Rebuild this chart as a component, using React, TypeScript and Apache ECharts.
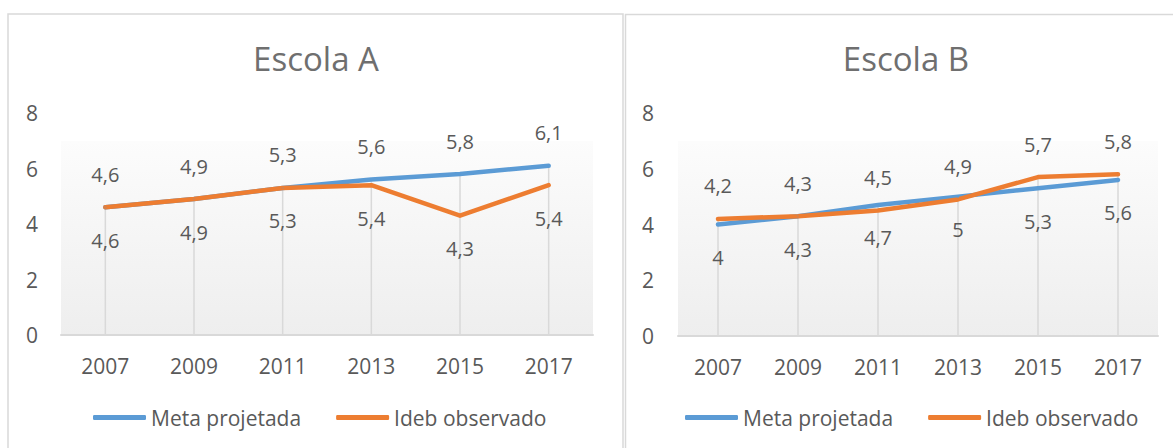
import React, { useEffect, useRef } from "react";
import * as echarts from "echarts";

const years = ["2007", "2009", "2011", "2013", "2015", "2017"];
const metaA = [4.6, 4.9, 5.3, 5.6, 5.8, 6.1];
const idebA = [4.6, 4.9, 5.3, 5.4, 4.3, 5.4];
const metaB = [4.0, 4.3, 4.7, 5.0, 5.3, 5.6];
const idebB = [4.2, 4.3, 4.5, 4.9, 5.7, 5.8];
const titleA = "Escola A";
const titleB = "Escola B";
const nameMeta = "Meta projetada";
const nameIdeb = "Ideb observado";

const FONT = "Open Sans";
const TXT = "#595959";
const BLUE = "#5B9BD5";
const ORANGE = "#ED7D31";
const GRIDC = "#d9d9d9";

const fmt = (p: any) => String(p.value).replace(".", ",");

function bg() {
  return new echarts.graphic.LinearGradient(0, 0, 0, 1, [
    { offset: 0, color: "#ffffff" },
    { offset: 0.125, color: "#ffffff" },
    { offset: 0.127, color: "#fcfcfc" },
    { offset: 1, color: "#eeeeee" },
  ]);
}

export default function App() {
  const ref = useRef<HTMLDivElement>(null);
  useEffect(() => {
    if (!ref.current) return;
    const chart = echarts.init(ref.current, undefined, { renderer: "svg" });

    const lineSeries = (
      name: string,
      data: number[],
      color: string,
      idx: number,
      pos: "top" | "bottom"
    ) => ({
      type: "line",
      name,
      data,
      xAxisIndex: idx,
      yAxisIndex: idx,
      symbol: "circle",
      symbolSize: 2,
      itemStyle: { color },
      lineStyle: { color, width: 4.5, cap: "round", join: "round" },
      z: 3,
      label: {
        show: true,
        position: pos,
        distance: 22,
        formatter: fmt,
        color: TXT,
        fontFamily: FONT,
        fontSize: 20,
      },
      emphasis: { disabled: true },
    });

    const dropSeries = (a: number[], b: number[], idx: number) => ({
      type: "bar",
      name: "drop",
      data: a.map((v, i) => Math.max(v, b[i])),
      xAxisIndex: idx,
      yAxisIndex: idx,
      barWidth: 1.5,
      itemStyle: { color: GRIDC },
      silent: true,
      z: 1,
    });

    const xAxis = (idx: number) => ({
      type: "category",
      gridIndex: idx,
      data: years,
      boundaryGap: true,
      axisTick: { show: false },
      axisLine: { lineStyle: { color: GRIDC, width: 2 } },
      axisLabel: { color: TXT, fontFamily: FONT, fontSize: 21, margin: 20 },
    });
    const yAxis = (idx: number, margin: number) => ({
      type: "value",
      gridIndex: idx,
      min: 0,
      max: 8,
      interval: 2,
      axisLine: { show: false },
      axisTick: { show: false },
      splitLine: { show: false },
      axisLabel: { color: TXT, fontFamily: FONT, fontSize: 21, margin },
    });

    const legend = (left: number) => ({
      left,
      top: 407,
      padding: 0,
      data: [nameMeta, nameIdeb],
      icon: "roundRect",
      itemWidth: 53,
      itemHeight: 5,
      itemGap: 35,
      selectedMode: false,
      textStyle: { color: TXT, fontFamily: FONT, fontSize: 21 },
    });

    chart.setOption({
      animation: false,
      backgroundColor: "#ffffff",
      title: [
        {
          text: titleA,
          left: 316,
          top: 42,
          padding: 0,
          textAlign: "center",
          textStyle: { color: "#6f6f6f", fontFamily: FONT, fontSize: 33, fontWeight: "normal" },
        },
        {
          text: titleB,
          left: 906,
          top: 42,
          padding: 0,
          textAlign: "center",
          textStyle: { color: "#6f6f6f", fontFamily: FONT, fontSize: 33, fontWeight: "normal" },
        },
      ],
      legend: [legend(93), legend(685)],
      grid: [
        { left: 61, width: 532, top: 113, height: 222, show: true, borderWidth: 0, backgroundColor: bg() },
        { left: 678, width: 480, top: 113, height: 223, show: true, borderWidth: 0, backgroundColor: bg() },
      ],
      xAxis: [xAxis(0), xAxis(1)],
      yAxis: [yAxis(0, 23), yAxis(1, 24)],
      series: [
        dropSeries(metaA, idebA, 0),
        lineSeries(nameMeta, metaA, BLUE, 0, "top"),
        lineSeries(nameIdeb, idebA, ORANGE, 0, "bottom"),
        dropSeries(metaB, idebB, 1),
        lineSeries(nameMeta, metaB, BLUE, 1, "bottom"),
        lineSeries(nameIdeb, idebB, ORANGE, 1, "top"),
      ],
      graphic: [
        {
          type: "rect",
          shape: { x: 8, y: 14, width: 615, height: 460 },
          style: { fill: "none", stroke: GRIDC, lineWidth: 1.5 },
          silent: true,
        },
        {
          type: "rect",
          shape: { x: 625.5, y: 14.5, width: 620, height: 460 },
          style: { fill: "none", stroke: GRIDC, lineWidth: 1.5 },
          silent: true,
        },
      ],
    });
    return () => chart.dispose();
  }, []);
  return (
    <div
      ref={ref}
      style={{ position: "fixed", left: 0, top: 0, width: 1173, height: 448 }}
    />
  );
}
